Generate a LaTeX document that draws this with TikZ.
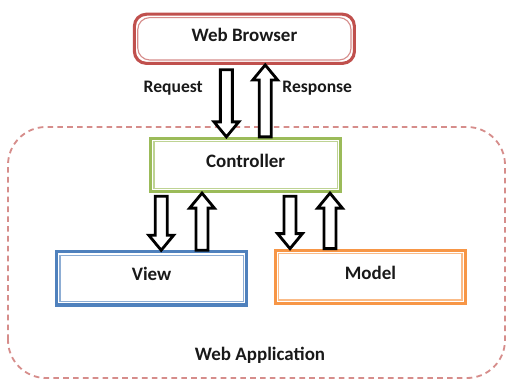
\documentclass[tikz,border=0pt]{standalone}
\usepackage{fontspec}
\setmainfont{Carlito}
\usetikzlibrary{calc}
\definecolor{msred}{HTML}{C0504D}
\definecolor{msgreen}{HTML}{9BBB59}
\definecolor{msblue}{HTML}{4F81BD}
\definecolor{msorange}{HTML}{F79646}

% hollow block arrow, only x of #1 and y of #2 are used
\newcommand\hollowarrow[2]{%
\draw[hollowarr] let \p1=#1, \p2=#2, \p3=($(\x1,\y2)!3.75mm!(\x1,\y1)$) in
  (\x1-1.5mm,\y1) -- (\x1-1.5mm,\y3) -- (\x1-3.1mm,\y3) -- (\x1,\y2)
  -- (\x1+3.1mm,\y3) -- (\x1+1.5mm,\y3) -- (\x1+1.5mm,\y1) -- cycle;}

\begin{document}
\begin{tikzpicture}[line join=miter,
  dblbox/.style 2 args={draw=#1,fill=white,line width=2.2pt,rounded corners=#2,
    minimum width=4.75cm,minimum height=1.33cm,text height=0.32cm,text depth=0.2cm,
    font=\bfseries\fontsize{13.5}{16}\selectfont,text=black!90,
    path picture={\draw[#1!65,line width=0.8pt,rounded corners=#2]
      ([shift={(2.4pt,2.4pt)}]path picture bounding box.south west) rectangle
      ([shift={(-2.4pt,-2.4pt)}]path picture bounding box.north east);}},
  hollowarr/.style={draw=black,fill=white,line width=2pt},
  lbl/.style={font=\bfseries\fontsize{12.5}{15}\selectfont,text=black!90}]
\useasboundingbox (0,0) rectangle (12.675,9.5);
% web application frame
\draw[msred!65,line width=1.3pt,dash pattern=on 4pt off 3pt,rounded corners=0.95cm]
  (0.2,0.05) rectangle (12.625,6.325);
\node[lbl,font=\bfseries\fontsize{13.5}{16}\selectfont] (app) at (6.5,0.62) {Web Application};

\node[dblbox={msred}{3mm},minimum width=5.5cm,minimum height=1.23cm] (browser) at (6.11,8.53) {Web Browser};
\node[dblbox={msgreen}{0pt}] (ctrl) at (6.14,5.375) {Controller};
\node[dblbox={msblue}{0pt}] (view) at (3.79,2.54) {View};
\node[dblbox={msorange}{0pt}] (model) at (9.26,2.58) {Model};

\node[lbl] (req) at (4.33,7.3) {Request};
\node[lbl] (resp) at (7.93,7.3) {Response};

\hollowarrow{($(browser.south)+(-0.45,-0.12)$)}{(ctrl.north)}
\hollowarrow{($(ctrl.north)+(0.49,0)$)}{(browser.south)}
\hollowarrow{($(ctrl.south)+(-2.11,-0.08)$)}{(view.north)}
\hollowarrow{($(view.north)+(1.26,0)$)}{(ctrl.south)}
\hollowarrow{($(ctrl.south)+(1.11,-0.08)$)}{(model.north)}
\hollowarrow{($(model.north)+(-1.01,0)$)}{(ctrl.south)}
\end{tikzpicture}
\end{document}
